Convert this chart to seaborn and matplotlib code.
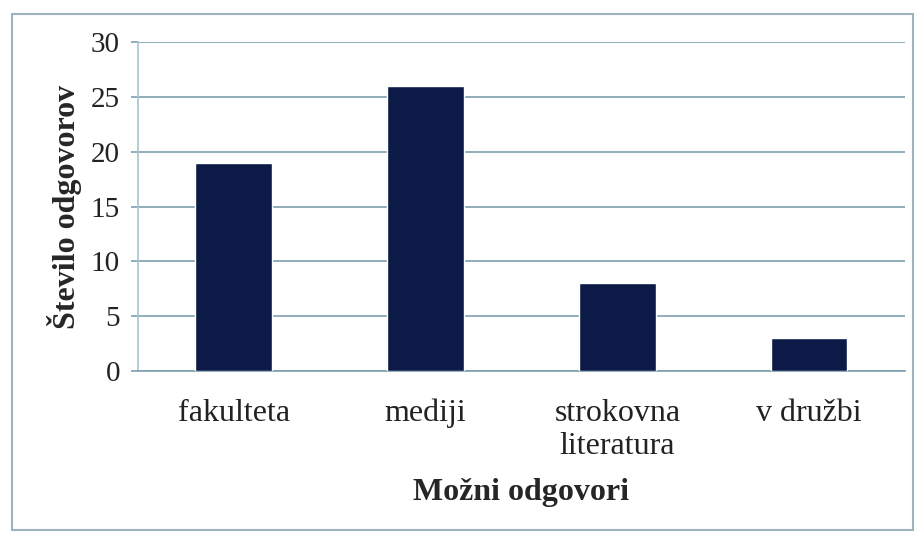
import matplotlib
matplotlib.use("Agg")
import matplotlib.pyplot as plt
import seaborn as sns
import pandas as pd
from matplotlib.patches import Rectangle

categories = ["fakulteta", "mediji", "strokovna\nliteratura", "v družbi"]
values = [19, 26, 8, 3]
yticks = [0, 5, 10, 15, 20, 25, 30]

sns.set_theme(style="white")
plt.rcParams['font.family'] = ['Liberation Serif', 'DejaVu Serif']

df = pd.DataFrame({"cat": categories, "val": values})

fig = plt.figure(figsize=(9.21, 5.36), dpi=100)
ax = fig.add_axes([0.1498, 0.3078, 0.8328, 0.6138])

sns.barplot(data=df, x="cat", y="val", color="#0b1a46", width=0.4, ax=ax,
            saturation=1, zorder=3)

grid_c = "#7d9fae"
ax.set_ylim(0, 30)
ax.set_yticks(yticks)
ax.set_yticklabels([str(t) for t in yticks], fontsize=21, color="#222222")
ax.yaxis.grid(True, color=grid_c, linewidth=1.2, zorder=0)
ax.set_axisbelow(True)
for s in ["top", "right"]:
    ax.spines[s].set_visible(False)
ax.spines["left"].set_color("#a9c3cf")
ax.spines["left"].set_linewidth(1.2)
ax.spines["bottom"].set_color(grid_c)
ax.spines["bottom"].set_linewidth(1.2)
ax.tick_params(axis="y", length=5, color=grid_c, width=1.2, pad=8, left=True)
ax.tick_params(axis="x", length=0, pad=20)
ax.set_xticks(range(len(categories)))
ax.set_xticklabels(categories, fontsize=23, color="#222222", linespacing=1.2)
ax.set_xlabel("Možni odgovori", fontsize=23, fontweight="bold", labelpad=12)
ax.set_ylabel("Število odgovorov", fontsize=23, fontweight="bold", labelpad=6)

fig.patches.append(Rectangle((12/921, 1-530/536), (913-12)/921, (530-14)/536,
                             transform=fig.transFigure, fill=False,
                             edgecolor="#9bb3bc", linewidth=1.5))

fig.savefig("out.png", dpi=100)
